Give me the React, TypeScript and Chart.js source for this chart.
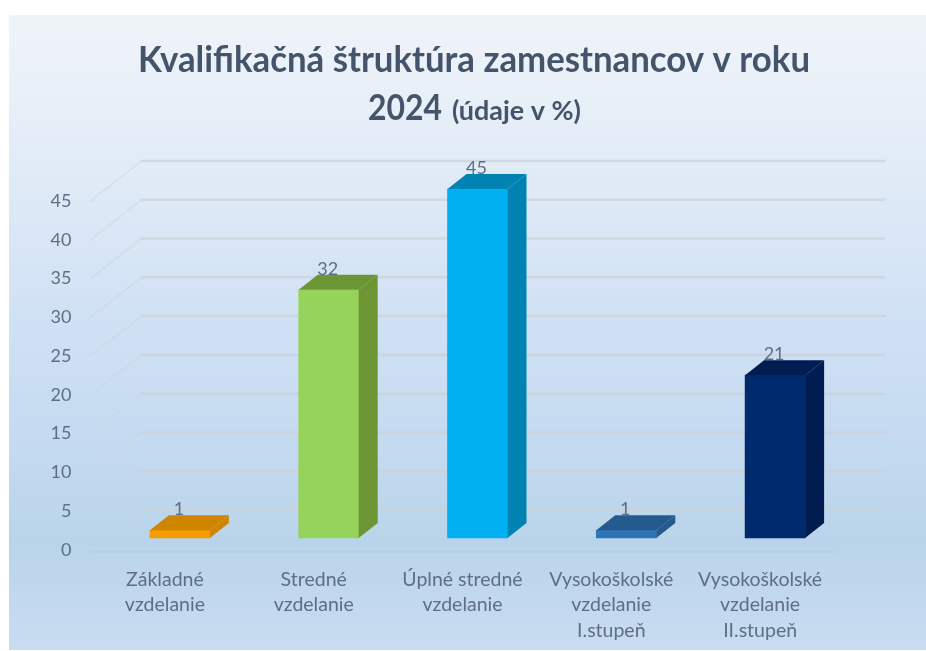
import React, { useEffect, useRef } from "react";
import { Chart, registerables } from "chart.js";

Chart.register(...registerables);

const categories: string[][] = [
  ["Základné", "vzdelanie"],
  ["Stredné", "vzdelanie"],
  ["Úplné stredné", "vzdelanie"],
  ["Vysokoškolské", "vzdelanie", "I.stupeň"],
  ["Vysokoškolské", "vzdelanie", "II.stupeň"],
];
const values: number[] = [1, 32, 45, 1, 21];
const frontColors: string[] = ["#f59d00", "#96d35a", "#00b0f0", "#2e75b6", "#002a6e"];
const darkColors: string[] = ["#cf8500", "#6d9534", "#0083b3", "#245a8d", "#001c50"];
const titleLine = "Kvalifikačná štruktúra zamestnancov v roku";
const titleYear = "2024";
const titleNote = "(údaje v %)";

const BAR_DX = 19;
const BAR_DY = 15;
const FRONT_SHIFT_X = 15;
const FRONT_SHIFT_Y = 12;
const WALL_DX = 51;
const WALL_DY = 40;
const TEXT = "#5f6e85";

const poly = (ctx: CanvasRenderingContext2D, pts: number[][], fill: string) => {
  ctx.beginPath();
  pts.forEach(([x, y], i) => (i ? ctx.lineTo(x, y) : ctx.moveTo(x, y)));
  ctx.closePath();
  ctx.fillStyle = fill;
  ctx.fill();
};

const look3d = {
  id: "look3d",
  beforeDraw(chart: any) {
    const { ctx, width, height } = chart;
    ctx.save();
    const g = ctx.createLinearGradient(0, 15, 0, 650);
    g.addColorStop(0, "#f0f4f9");
    g.addColorStop(0.22, "#e2ecf7");
    g.addColorStop(0.45, "#d2e2f5");
    g.addColorStop(0.68, "#c4daf0");
    g.addColorStop(0.83, "#b9d4ea");
    g.addColorStop(1, "#c9dcf1");
    ctx.fillStyle = "#ffffff";
    ctx.fillRect(0, 0, width, height);
    ctx.fillStyle = g;
    ctx.fillRect(9, 15, width - 9, 635);

    ctx.fillStyle = "#44546a";
    ctx.textAlign = "center";
    ctx.textBaseline = "middle";
    ctx.font = "bold 36px Lato";
    ctx.fillText(titleLine, 474, 60, 672);
    ctx.textAlign = "left";
    ctx.font = "bold 37px Lato";
    ctx.fillText(titleYear, 368, 108, 74);
    ctx.font = "bold 27px Lato";
    ctx.fillText(titleNote, 452, 111, 129);
    ctx.restore();
  },
  beforeDatasetsDraw(chart: any) {
    const { ctx, scales, chartArea } = chart;
    const y = scales.y;
    ctx.save();
    ctx.lineCap = "round";
    y.ticks.forEach((t: any) => {
      const py = y.getPixelForValue(t.value);
      ctx.strokeStyle = "rgba(204,208,213,0.7)";
      ctx.lineWidth = 2.5;
      ctx.beginPath();
      ctx.moveTo(chartArea.left + WALL_DX, py - WALL_DY);
      ctx.lineTo(chartArea.right + WALL_DX - 1, py - WALL_DY);
      ctx.stroke();
      ctx.strokeStyle = "rgba(208,212,218,0.55)";
      ctx.lineWidth = 1.5;
      ctx.beginPath();
      ctx.moveTo(chartArea.left, py);
      ctx.lineTo(chartArea.left + WALL_DX, py - WALL_DY);
      ctx.stroke();
    });
    const p0 = y.getPixelForValue(0) + 2;
    ctx.strokeStyle = "rgba(176,196,218,0.4)";
    ctx.lineWidth = 1.5;
    ctx.beginPath();
    ctx.moveTo(chartArea.left, p0);
    ctx.lineTo(chartArea.right, p0);
    ctx.stroke();
    ctx.restore();
  },
  beforeDatasetDraw(chart: any) {
    chart.ctx.save();
    chart.ctx.translate(FRONT_SHIFT_X, -FRONT_SHIFT_Y);
  },
  afterDatasetDraw(chart: any, args: any) {
    const { ctx } = chart;
    ctx.restore();
    ctx.save();
    args.meta.data.forEach((bar: any, i: number) => {
      const p = bar.getProps(["x", "y", "base", "width"], true);
      const l = p.x - p.width / 2 + FRONT_SHIFT_X;
      const r = p.x + p.width / 2 + FRONT_SHIFT_X;
      const t = p.y - FRONT_SHIFT_Y;
      const b = p.base - FRONT_SHIFT_Y;
      poly(ctx, [[l, t], [r, t], [r + BAR_DX, t - BAR_DY], [l + BAR_DX, t - BAR_DY]], darkColors[i]);
      poly(ctx, [[r, t], [r + BAR_DX, t - BAR_DY], [r + BAR_DX, b - BAR_DY], [r, b]], darkColors[i]);
      ctx.fillStyle = TEXT;
      ctx.font = "18px Lato";
      ctx.textAlign = "center";
      ctx.textBaseline = "middle";
      ctx.fillText(String(values[i]), p.x + FRONT_SHIFT_X - 1, t - 21);
    });
    ctx.restore();
  },
};

export default function App() {
  const ref = useRef<HTMLCanvasElement>(null);
  useEffect(() => {
    const chart = new Chart(ref.current as HTMLCanvasElement, {
      type: "bar",
      data: {
        labels: categories,
        datasets: [
          {
            data: values,
            backgroundColor: frontColors,
            barThickness: 60,
            clip: false,
          } as any,
        ],
      },
      options: {
        responsive: false,
        animation: false,
        layout: { padding: { left: 0, right: 91.5, top: 201, bottom: 0 } },
        plugins: { legend: { display: false }, tooltip: { enabled: false }, title: { display: false } },
        scales: {
          x: {
            grid: { display: false },
            border: { display: false },
            afterFit: (s: any) => {
              s.height = 101;
            },
            ticks: {
              autoSkip: false,
              maxRotation: 0,
              minRotation: 0,
              padding: 9,
              color: TEXT,
              font: { family: "Lato", size: 19.5, lineHeight: 1.3 },
            },
          },
          y: {
            min: 0,
            max: 45,
            grid: { display: false },
            border: { display: false },
            afterFit: (s: any) => {
              s.width = 90.5;
            },
            ticks: {
              stepSize: 5,
              padding: 11,
              color: TEXT,
              font: { family: "Lato", size: 18 },
            },
          },
        },
      },
      plugins: [look3d],
    } as any);
    return () => chart.destroy();
  }, []);
  return (
    <div style={{ position: "absolute", left: 0, top: 0, width: 926, height: 651 }}>
      <canvas ref={ref} width={926} height={651} style={{ display: "block" }} />
    </div>
  );
}
